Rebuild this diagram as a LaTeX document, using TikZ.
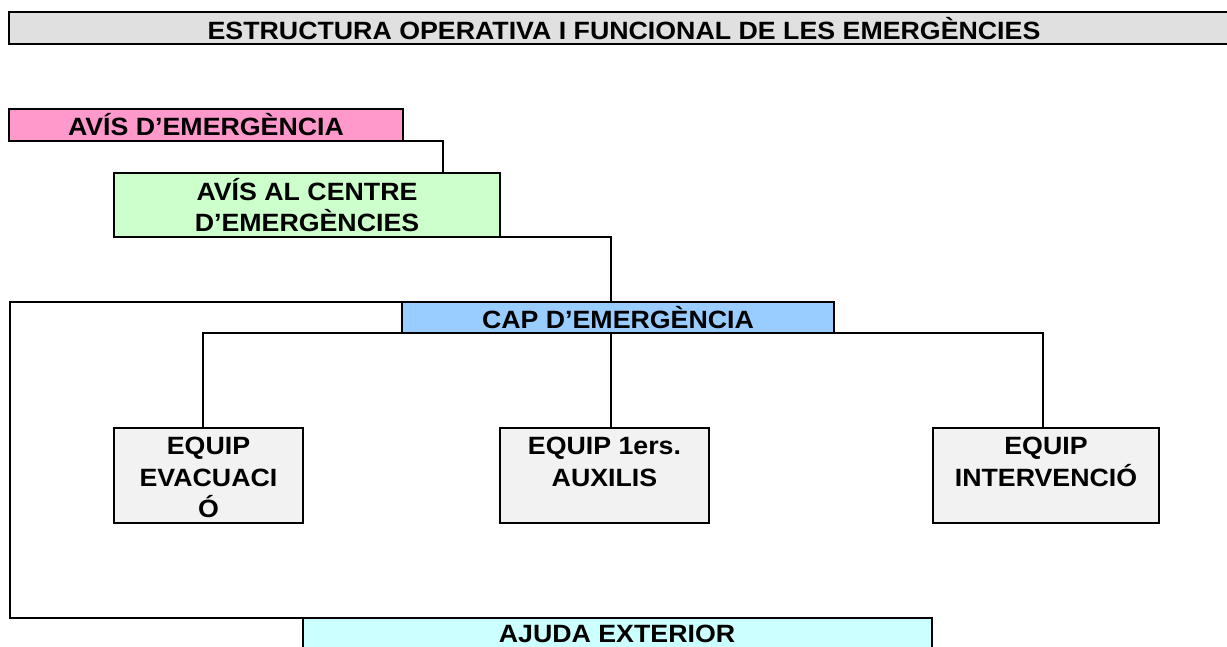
\documentclass[tikz,border=0pt]{standalone}
\usepackage{fontspec}
\setmainfont{Liberation Sans}[FakeStretch=1.07]
\definecolor{titlegray}{HTML}{E0E0E0}
\definecolor{pinkc}{HTML}{FF99CC}
\definecolor{greenc}{HTML}{CCFFCC}
\definecolor{bluec}{HTML}{99CCFF}
\definecolor{cyanc}{HTML}{CCFFFF}
\definecolor{grayc}{HTML}{F2F2F2}
\begin{document}
\begin{tikzpicture}[x=1pt,y=-1pt,
  box/.style={draw=black,line width=2.4pt,inner sep=0pt,outer sep=0pt,anchor=north west,align=center,
    font=\fontsize{25}{31}\selectfont\bfseries},
  eqbox/.style={box,fill=grayc,minimum width=#1,minimum height=95},
  eqtext/.style={anchor=north,inner sep=0pt,align=center,font=\fontsize{25}{31.5}\selectfont\bfseries},
  conn/.style={draw=black,line width=2.2pt}]
\useasboundingbox (0,0) rectangle (1227,646);
\clip (0,0) rectangle (1227,646);
% title
\node[box,fill=titlegray,minimum width=1240,minimum height=32] (title) at (9,12) {};
\node[font=\fontsize{25}{31}\selectfont\bfseries,inner sep=0pt] (titletext) at (624,29) {ESTRUCTURA OPERATIVA I FUNCIONAL DE LES EMERGÈNCIES};
% boxes
\node[box,fill=pinkc,minimum width=394,minimum height=32] (avis) at (9,109) {AVÍS D’EMERGÈNCIA};
\node[box,fill=greenc,minimum width=386,minimum height=64] (centre) at (114,173) {AVÍS AL CENTRE\\D’EMERGÈNCIES};
\node[box,fill=bluec,minimum width=432,minimum height=31] (cap) at (402,302) {CAP D’EMERGÈNCIA};
\node[eqbox=189] (e1) at (114,428) {};
\node[eqbox=209] (e2) at (500,428) {};
\node[eqbox=226] (e3) at (933,428) {};
\node[eqtext] (t1) at ([yshift=-9]e1.north) {EQUIP\\EVACUACI\\Ó};
\node[eqtext] (t2) at ([yshift=-9]e2.north) {EQUIP 1ers.\\AUXILIS};
\node[eqtext] (t3) at ([yshift=-9]e3.north) {EQUIP\\INTERVENCIÓ};
\node[box,fill=cyanc,minimum width=629,minimum height=50] (ajuda) at (303,618) {};
\node[font=\fontsize{25}{31}\selectfont\bfseries,inner sep=0pt] (ajudatext) at (617,634) {AJUDA EXTERIOR};
% connectors
\coordinate (k1) at (443,173);
\coordinate (k2) at (611,302);
\coordinate (k3) at (10,302);
\coordinate (k4) at (10,618);
\coordinate (b1) at (203,333);
\coordinate (b2) at (611,333);
\coordinate (b3) at (1043,333);
\draw[conn] (avis.south east) -| (k1);
\draw[conn] (centre.south east) -| (k2);
\draw[conn] (cap.north west) -- (k3) -- (k4) -- (ajuda.north west);
\draw[conn] (b1 |- e1.north) -- (b1) -- (b3) -- (b3 |- e3.north);
\draw[conn] (b2) -- (b2 |- e2.north);
\end{tikzpicture}
\end{document}
